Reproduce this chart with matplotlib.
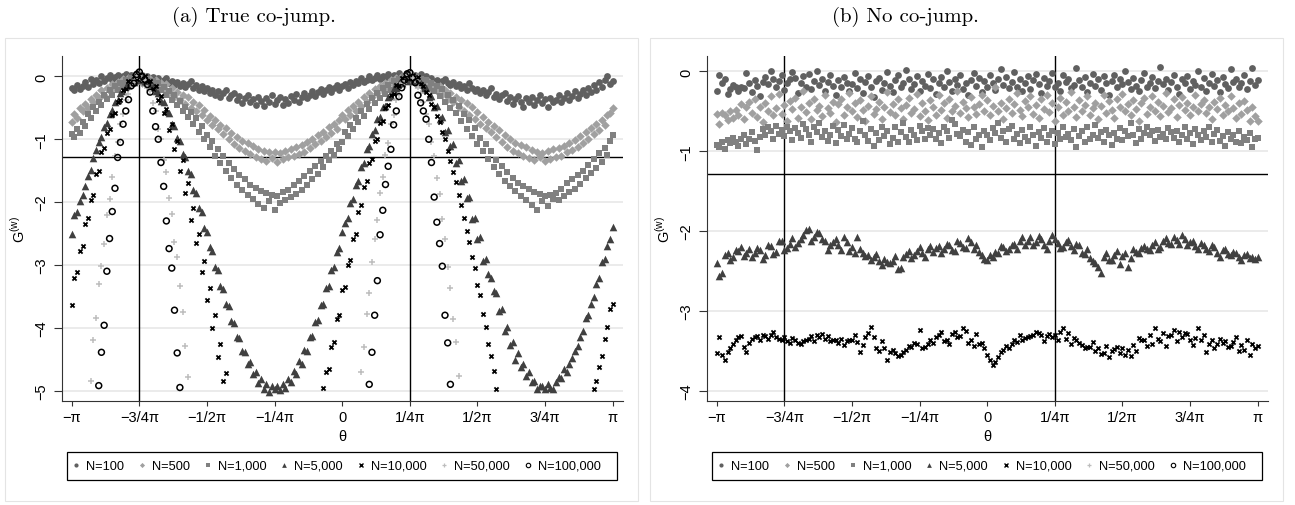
import numpy as np
import matplotlib
matplotlib.use("Agg")
import matplotlib.pyplot as plt
from matplotlib.lines import Line2D
from matplotlib.patches import Rectangle

plt.rcParams["font.family"] = ["Liberation Sans", "DejaVu Sans"]
plt.rcParams["mathtext.fontset"] = "custom"
plt.rcParams["mathtext.rm"] = "Liberation Sans"

nan = np.nan

# theta grid, -pi .. pi
theta = np.linspace(-np.pi, np.pi, 201)

series_labels = ["N=100", "N=500", "N=1,000", "N=5,000", "N=10,000", "N=50,000", "N=100,000"]
xtick_pos = np.pi * np.array([-1, -0.75, -0.5, -0.25, 0, 0.25, 0.5, 0.75, 1])
xtick_labels = ["\u2212\u03c0", "\u22123/4\u03c0", "\u22121/2\u03c0", "\u22121/4\u03c0", "0",
                "1/4\u03c0", "1/2\u03c0", "3/4\u03c0", "\u03c0"]

# ---- (a) true co-jump ----
a_n100 = [-0.18, -0.22, -0.13, -0.20, -0.15, -0.09, -0.17, -0.04, -0.12, -0.06,
          -0.10, 0.01, -0.08, -0.03, 0.02, -0.06, -0.01, 0.03, -0.05, 0.00,
          0.04, -0.03, 0.02, -0.01, 0.05, -0.04, 0.02, -0.02, 0.01, -0.06,
          -0.01, -0.08, -0.03, -0.10, -0.05, -0.02, -0.11, -0.07, -0.13, -0.09,
          -0.15, -0.10, -0.17, -0.12, -0.08, -0.19, -0.14, -0.21, -0.16, -0.24,
          -0.18, -0.26, -0.21, -0.29, -0.24, -0.33, -0.27, -0.22, -0.35, -0.30,
          -0.26, -0.38, -0.31, -0.42, -0.34, -0.29, -0.40, -0.36, -0.45, -0.32,
          -0.39, -0.47, -0.35, -0.41, -0.30, -0.44, -0.38, -0.33, -0.46, -0.36,
          -0.42, -0.31, -0.37, -0.28, -0.40, -0.33, -0.26, -0.35, -0.29, -0.24,
          -0.31, -0.25, -0.20, -0.28, -0.22, -0.17, -0.25, -0.19, -0.14, -0.21,
          -0.16, -0.12, -0.19, -0.09, -0.14, -0.07, -0.11, -0.03, -0.09, -0.05,
          0.00, -0.06, -0.02, 0.03, -0.04, 0.01, -0.03, 0.04, -0.01, 0.02,
          -0.03, 0.05, 0.00, -0.02, 0.06, 0.01, -0.04, 0.03, -0.01, 0.04,
          -0.05, 0.00, -0.07, -0.03, -0.09, -0.05, -0.12, -0.08, -0.04, -0.11,
          -0.14, -0.09, -0.16, -0.12, -0.19, -0.15, -0.21, -0.11, -0.18, -0.23,
          -0.20, -0.27, -0.22, -0.30, -0.25, -0.19, -0.32, -0.28, -0.36, -0.30,
          -0.27, -0.39, -0.33, -0.44, -0.36, -0.31, -0.41, -0.48, -0.35, -0.40,
          -0.33, -0.45, -0.38, -0.30, -0.43, -0.36, -0.49, -0.34, -0.40, -0.37,
          -0.29, -0.41, -0.34, -0.27, -0.38, -0.31, -0.24, -0.35, -0.28, -0.22,
          -0.30, -0.18, -0.25, -0.14, -0.21, -0.09, -0.17, -0.05, 0.00, -0.12,
          -0.08]
a_n500 = [-0.72, -0.60, -0.66, -0.51, -0.55, -0.44, -0.50, -0.36, -0.41, -0.29,
          -0.34, -0.22, -0.30, -0.18, -0.24, -0.12, -0.19, -0.09, -0.15, -0.04,
          -0.11, -0.02, -0.09, 0.00, -0.08, -0.01, -0.10, -0.03, -0.12, -0.04,
          -0.13, -0.06, -0.18, -0.10, -0.22, -0.12, -0.27, -0.19, -0.33, -0.25,
          -0.38, -0.29, -0.44, -0.33, -0.50, -0.41, -0.55, -0.46, -0.62, -0.53,
          -0.69, -0.63, -0.78, -0.69, -0.84, -0.77, -0.92, -0.82, -0.99, -0.90,
          -1.08, -0.97, -1.14, -1.02, -1.19, -1.06, -1.24, -1.10, -1.28, -1.15,
          -1.32, -1.18, -1.34, -1.20, -1.30, -1.21, -1.36, -1.22, -1.31, -1.18,
          -1.28, -1.16, -1.27, -1.12, -1.23, -1.09, -1.20, -1.04, -1.14, -1.00,
          -1.08, -0.93, -1.02, -0.88, -0.96, -0.81, -0.90, -0.75, -0.83, -0.70,
          -0.62, -0.68, -0.54, -0.61, -0.47, -0.55, -0.40, -0.47, -0.33, -0.40,
          -0.26, -0.33, -0.20, -0.27, -0.15, -0.22, -0.10, -0.18, -0.06, -0.14,
          -0.03, -0.11, 0.01, -0.09, -0.02, -0.08, 0.02, -0.10, -0.03, -0.13,
          -0.06, -0.16, -0.09, -0.20, -0.13, -0.24, -0.16, -0.30, -0.21, -0.36,
          -0.26, -0.41, -0.32, -0.48, -0.37, -0.55, -0.43, -0.61, -0.49, -0.68,
          -0.57, -0.76, -0.64, -0.82, -0.72, -0.89, -0.79, -0.97, -0.86, -1.05,
          -0.94, -1.12, -1.00, -1.18, -1.06, -1.22, -1.09, -1.27, -1.13, -1.30,
          -1.17, -1.33, -1.20, -1.29, -1.22, -1.35, -1.19, -1.31, -1.16, -1.28,
          -1.14, -1.26, -1.10, -1.21, -1.06, -1.17, -1.01, -1.12, -0.95, -1.06,
          -0.89, -0.99, -0.82, -0.92, -0.76, -0.85, -0.69, -0.77, -0.62, -0.58,
          -0.50]
a_n1000 = [-0.92, -0.96, -0.83, -0.90, -0.72, -0.79, -0.60, -0.66, -0.49, -0.55,
           -0.40, -0.45, -0.30, -0.36, -0.22, -0.29, -0.15, -0.22, -0.10, -0.16,
           -0.06, -0.12, -0.03, -0.09, 0.00, -0.07, -0.02, -0.10, -0.04, -0.12,
           -0.08, -0.16, -0.11, -0.22, -0.17, -0.29, -0.24, -0.37, -0.30, -0.45,
           -0.39, -0.55, -0.48, -0.65, -0.56, -0.76, -0.66, -0.88, -0.79, -1.00,
           -0.93, -1.12, -1.03, -1.26, -1.15, -1.38, -1.27, -1.50, -1.38, -1.62,
           -1.48, -1.73, -1.57, -1.80, -1.64, -1.88, -1.72, -1.95, -1.78, -2.03,
           -1.83, -2.10, -1.86, -1.98, -1.89, -2.12, -1.91, -2.02, -1.84, -1.97,
           -1.80, -1.92, -1.72, -1.87, -1.66, -1.80, -1.58, -1.73, -1.50, -1.64,
           -1.43, -1.56, -1.35, -1.44, -1.27, -1.33, -1.18, -1.25, -1.08, -1.16,
           -1.05, -0.88, -0.95, -0.78, -0.84, -0.66, -0.73, -0.55, -0.63, -0.44,
           -0.52, -0.35, -0.43, -0.27, -0.34, -0.19, -0.28, -0.14, -0.22, -0.08,
           -0.15, -0.04, -0.11, 0.00, -0.08, -0.02, -0.09, 0.01, -0.08, -0.04,
           -0.13, -0.06, -0.18, -0.11, -0.24, -0.15, -0.31, -0.20, -0.40, -0.29,
           -0.50, -0.38, -0.59, -0.47, -0.71, -0.60, -0.83, -0.70, -0.95, -0.82,
           -1.07, -0.98, -1.19, -1.08, -1.31, -1.19, -1.44, -1.33, -1.55, -1.42,
           -1.66, -1.52, -1.75, -1.61, -1.83, -1.69, -1.90, -1.74, -1.96, -1.79,
           -2.04, -1.84, -2.13, -1.87, -1.99, -1.90, -2.06, -1.88, -1.95, -1.85,
           -1.96, -1.79, -1.90, -1.70, -1.84, -1.64, -1.79, -1.57, -1.71, -1.50,
           -1.62, -1.41, -1.53, -1.31, -1.45, -1.22, -1.36, -1.14, -1.25, -1.03,
           -0.93]
a_n5000 = [-2.50, -2.21, -2.15, -1.98, -1.88, -1.74, -1.58, -1.49, -1.30, -1.17,
           -1.04, -0.97, -0.80, -0.74, -0.60, -0.53, -0.41, -0.37, -0.27, -0.23,
           -0.15, -0.14, -0.07, -0.09, -0.03, -0.06, -0.04, -0.08, -0.07, -0.15,
           -0.15, -0.24, -0.26, -0.39, -0.41, -0.55, -0.58, -0.75, -0.79, -0.98,
           -1.03, -1.23, -1.29, -1.51, -1.56, -1.80, -1.86, -2.10, -2.15, -2.41,
           -2.47, -2.72, -2.78, -3.03, -3.08, -3.33, -3.38, -3.62, -3.66, -3.89,
           -3.92, -4.14, -4.16, -4.37, -4.38, -4.57, -4.55, -4.73, -4.70, -4.88,
           -4.82, -4.97, -4.90, -5.02, -4.93, -4.97, -4.92, -4.99, -4.89, -4.95,
           -4.81, -4.87, -4.69, -4.73, -4.53, -4.57, -4.36, -4.37, -4.15, -4.13,
           -3.91, -3.88, -3.64, -3.62, -3.37, -3.34, -3.08, -3.04, -2.79, -2.73,
           -2.48, -2.33, -2.25, -2.01, -1.95, -1.72, -1.66, -1.44, -1.37, -1.16,
           -1.10, -0.91, -0.86, -0.68, -0.65, -0.49, -0.47, -0.33, -0.31, -0.19,
           -0.19, -0.10, -0.11, -0.04, -0.07, -0.02, -0.08, -0.04, -0.12, -0.10,
           -0.20, -0.19, -0.33, -0.31, -0.48, -0.47, -0.67, -0.65, -0.88, -0.86,
           -1.11, -1.08, -1.38, -1.33, -1.67, -1.64, -1.93, -1.92, -2.27, -2.25,
           -2.58, -2.55, -2.94, -2.90, -3.15, -3.20, -3.42, -3.45, -3.74, -3.70,
           -4.05, -3.98, -4.27, -4.22, -4.52, -4.40, -4.63, -4.58, -4.77, -4.70,
           -4.87, -4.84, -4.98, -4.92, -4.93, -4.98, -4.90, -4.95, -4.97, -4.86,
           -4.79, -4.80, -4.66, -4.71, -4.58, -4.48, -4.37, -4.29, -4.15, -4.05,
           -3.85, -3.80, -3.62, -3.51, -3.30, -3.21, -2.96, -2.90, -2.70, -2.58,
           -2.40]
# values below the plotted range are left out (nan)
a_n10000 = ([-3.64, -3.20, -3.12, -2.78, -2.70, -2.35, -2.25, -1.96, -1.88, -1.55,
             -1.50, -1.20, -1.14, -0.90, -0.84, -0.62, -0.58, -0.40, -0.37, -0.21,
             -0.20, -0.08, -0.09, 0.00, -0.04, 0.03, -0.05, 0.01, -0.08, -0.07,
             -0.20, -0.16, -0.37, -0.31, -0.59, -0.52, -0.85, -0.76, -1.15, -1.02,
             -1.50, -1.33, -1.86, -1.70, -2.28, -2.10, -2.65, -2.50, -3.12, -2.94,
             -3.55, -3.36, -4.01, -3.80, -4.46, -4.25, -4.85, -4.72]
            + [nan] * 35
            + [-4.95, -4.70, -4.66, -4.30, -4.22, -3.86, -3.80,
               -3.40, -3.35, -3.00, -2.92, -2.58, -2.50, -2.16, -2.05, -1.76, -1.67,
               -1.38, -1.32, -1.03, -1.00, -0.74, -0.71, -0.50, -0.46, -0.30, -0.28,
               -0.13, -0.15, -0.02, -0.08, 0.04, -0.03, 0.02, -0.06, -0.01, -0.12,
               -0.15, -0.25, -0.29, -0.44, -0.49, -0.63, -0.72, -0.88, -0.99, -1.18,
               -1.35, -1.52, -1.68, -1.88, -2.05, -2.25, -2.46, -2.64, -2.88, -3.05,
               -3.32, -3.48, -3.78, -3.98, -4.25, -4.45, -4.68, -4.97]
            + [nan] * 35
            + [-4.98, -4.85, -4.62, -4.45, -4.18, -3.99, -3.70, -3.62])
a_n50000 = ([nan] * 7
            + [-4.84, -4.20, -3.85, -3.30, -3.02, -2.66, -2.20, -1.95, -1.60, -1.26,
               -1.05, -0.75, -0.60, -0.38, -0.28, -0.12, -0.09, 0.01, 0.03, -0.04,
               -0.05, -0.19, -0.24, -0.43, -0.55, -0.83, -0.99, -1.33, -1.52, -1.94,
               -2.19, -2.63, -2.88, -3.33, -3.75, -4.29, -4.78]
            + [nan] * 63
            + [-4.70, -4.31, -3.78, -3.44, -2.95, -2.58, -2.28, -1.86, -1.60, -1.25,
               -1.06, -0.76, -0.62, -0.37, -0.30, -0.11, -0.10, 0.02, 0.04, -0.03,
               -0.06, -0.17, -0.27, -0.40, -0.60, -0.76, -1.05, -1.27, -1.62, -1.87,
               -2.27, -2.58, -3.03, -3.37, -3.86, -4.22, -4.77]
            + [nan] * 57)
a_n100000 = ([nan] * 10
             + [-4.92, -4.39, -3.96, -3.10, -2.58, -2.15, -1.78, -1.29, -1.05, -0.76,
                -0.55, -0.37, -0.15, -0.11, 0.03, 0.07, 0.00, -0.05, -0.13, -0.25,
                -0.55, -0.80, -1.00, -1.37, -1.75, -2.30, -2.74, -3.05, -3.72, -4.40,
                -4.95]
             + [nan] * 69
             + [-4.90, -4.39, -3.80, -3.25, -2.52, -2.13, -1.72, -1.43, -1.16, -0.77,
                -0.55, -0.32, -0.18, -0.06, 0.04, 0.06, -0.02, -0.10, -0.30, -0.42,
                -0.55, -0.68, -1.00, -1.37, -1.92, -2.32, -2.66, -3.02, -3.80, -4.24,
                -4.90]
             + [nan] * 60)

# ---- (b) no co-jump ----
b_n100 = [-0.25, -0.05, -0.14, -0.10, -0.28, -0.22, -0.17, -0.20, -0.24, -0.19,
          -0.21, -0.02, -0.15, -0.26, -0.11, -0.18, -0.31, -0.13, -0.07, -0.16,
          0.00, -0.09, -0.20, -0.12, -0.04, -0.23, -0.15, -0.10, -0.01, -0.08,
          -0.27, -0.14, -0.06, -0.19, -0.03, -0.22, -0.12, 0.01, -0.17, -0.09,
          -0.24, -0.13, -0.05, -0.18, -0.29, -0.11, -0.20, -0.07, -0.14, -0.25,
          -0.16, -0.02, -0.21, -0.10, -0.27, -0.13, -0.06, -0.19, -0.32, -0.12,
          -0.08, -0.23, -0.15, -0.01, -0.18, -0.26, -0.11, -0.04, -0.20, -0.14,
          0.02, -0.09, -0.22, -0.16, -0.06, -0.25, -0.12, -0.18, -0.03, -0.21,
          -0.10, -0.28, -0.15, -0.07, -0.19, 0.00, -0.13, -0.24, -0.09, -0.17,
          -0.05, -0.22, -0.14, -0.30, -0.11, -0.02, -0.18, -0.08, -0.26, -0.12,
          -0.20, -0.04, -0.15, -0.23, -0.10, 0.03, -0.17, -0.07, -0.21, -0.13,
          -0.01, -0.19, -0.09, -0.25, -0.14, -0.06, -0.22, -0.11, -0.03, -0.16,
          -0.27, -0.08, -0.18, -0.12, -0.02, -0.20, -0.15, -0.24, -0.05, -0.13,
          -0.09, -0.21, -0.17, 0.04, -0.11, -0.19, -0.07, -0.26, -0.14, -0.03,
          -0.18, -0.10, -0.23, -0.06, -0.15, -0.29, -0.12, -0.04, -0.20, -0.09,
          -0.16, 0.01, -0.13, -0.22, -0.08, -0.18, -0.25, -0.11, -0.02, -0.19,
          -0.14, -0.07, -0.21, -0.12, 0.05, -0.16, -0.09, -0.23, -0.13, -0.04,
          -0.19, -0.28, -0.10, -0.15, -0.06, -0.22, -0.12, -0.17, 0.00, -0.20,
          -0.08, -0.24, -0.14, -0.03, -0.18, -0.11, -0.26, -0.07, -0.16, -0.21,
          0.03, -0.13, -0.09, -0.20, -0.15, -0.05, -0.22, -0.12, 0.04, -0.17,
          -0.11]
b_n500 = [-0.53, -0.66, -0.52, -0.55, -0.61, -0.50, -0.58, -0.48, -0.54, -0.41,
          -0.60, -0.45, -0.38, -0.52, -0.35, -0.57, -0.44, -0.63, -0.40, -0.49,
          -0.31, -0.55, -0.46, -0.28, -0.53, -0.42, -0.62, -0.37, -0.47, -0.33,
          -0.58, -0.44, -0.24, -0.51, -0.39, -0.60, -0.35, -0.48, -0.43, -0.56,
          -0.30, -0.46, -0.52, -0.38, -0.63, -0.41, -0.34, -0.54, -0.45, -0.27,
          -0.50, -0.40, -0.57, -0.36, -0.48, -0.62, -0.43, -0.31, -0.53, -0.47,
          -0.38, -0.59, -0.44, -0.26, -0.51, -0.41, -0.55, -0.35, -0.46, -0.60,
          -0.42, -0.33, -0.52, -0.47, -0.28, -0.56, -0.39, -0.49, -0.61, -0.36,
          -0.45, -0.54, -0.30, -0.48, -0.40, -0.58, -0.34, -0.50, -0.43, -0.25,
          -0.52, -0.38, -0.46, -0.57, -0.32, -0.44, -0.53, -0.41, -0.29, -0.49,
          -0.36, -0.55, -0.43, -0.20, -0.50, -0.39, -0.60, -0.46, -0.34, -0.52,
          -0.41, -0.27, -0.48, -0.56, -0.37, -0.45, -0.31, -0.53, -0.42, -0.58,
          -0.35, -0.47, -0.29, -0.51, -0.40, -0.62, -0.44, -0.33, -0.55, -0.38,
          -0.49, -0.26, -0.45, -0.57, -0.36, -0.50, -0.42, -0.31, -0.54, -0.46,
          -0.39, -0.60, -0.43, -0.30, -0.52, -0.37, -0.48, -0.58, -0.34, -0.45,
          -0.28, -0.50, -0.41, -0.55, -0.36, -0.47, -0.62, -0.40, -0.33, -0.53,
          -0.44, -0.31, -0.49, -0.38, -0.56, -0.43, -0.27, -0.51, -0.46, -0.35,
          -0.57, -0.42, -0.32, -0.48, -0.39, -0.54, -0.45, -0.29, -0.50, -0.41,
          -0.36, -0.52, -0.44, -0.60, -0.38, -0.47, -0.33, -0.55, -0.42, -0.49,
          -0.31, -0.46, -0.58, -0.40, -0.53, -0.37, -0.48, -0.62, -0.44, -0.56,
          -0.62]
b_n1000 = [-0.92, -0.95, -0.89, -0.97, -0.86, -0.90, -0.83, -0.88, -0.93, -0.85,
           -0.80, -0.91, -0.84, -0.76, -0.87, -0.98, -0.82, -0.72, -0.79, -0.70,
           -0.75, -0.85, -0.68, -0.78, -0.73, -0.81, -0.69, -0.74, -0.86, -0.71,
           -0.77, -0.83, -0.66, -0.72, -0.80, -0.88, -0.70, -0.76, -0.64, -0.82,
           -0.74, -0.87, -0.79, -0.68, -0.90, -0.73, -0.81, -0.67, -0.85, -0.78,
           -0.71, -0.84, -0.89, -0.75, -0.62, -0.80, -0.87, -0.72, -0.93, -0.77,
           -0.86, -0.69, -0.81, -0.74, -0.91, -0.83, -0.70, -0.88, -0.76, -0.65,
           -0.82, -0.89, -0.73, -0.79, -0.86, -0.68, -0.75, -0.84, -0.71, -0.80,
           -0.72, -0.85, -0.77, -0.90, -0.70, -0.74, -0.83, -0.61, -0.66, -0.78,
           -0.81, -0.73, -0.88, -0.76, -0.92, -0.69, -0.84, -0.79, -0.95, -0.74,
           -0.80, -0.86, -0.71, -0.77, -0.64, -0.83, -0.75, -0.89, -0.72, -0.68,
           -0.85, -0.78, -0.90, -0.73, -0.82, -0.87, -0.70, -0.79, -0.93, -0.76,
           -0.83, -0.71, -0.88, -0.80, -0.74, -0.91, -0.77, -0.85, -0.69, -0.82,
           -0.78, -0.86, -0.72, -0.95, -0.81, -0.75, -0.89, -0.70, -0.84, -0.79,
           -0.67, -0.83, -0.76, -0.88, -0.73, -0.80, -0.92, -0.77, -0.85, -0.71,
           -0.86, -0.74, -0.81, -0.65, -0.79, -0.90, -0.72, -0.84, -0.77, -0.69,
           -0.80, -0.75, -0.87, -0.73, -0.82, -0.78, -0.85, -0.71, -0.76, -0.83,
           -0.74, -0.88, -0.79, -0.69, -0.84, -0.77, -0.91, -0.72, -0.80, -0.86,
           -0.75, -0.82, -0.70, -0.89, -0.78, -0.73, -0.87, -0.81, -0.93, -0.76,
           -0.84, -0.79, -0.88, -0.74, -0.90, -0.82, -0.86, -0.77, -0.95, -0.85,
           -0.83]
b_n5000 = [-2.40, -2.56, -2.52, -2.30, -2.27, -2.36, -2.33, -2.24, -2.25, -2.20,
           -2.31, -2.27, -2.22, -2.33, -2.28, -2.21, -2.24, -2.35, -2.30, -2.18,
           -2.19, -2.29, -2.26, -2.12, -2.13, -2.24, -2.21, -2.16, -2.09, -2.20,
           -2.15, -2.10, -2.05, -1.99, -1.97, -2.12, -2.08, -2.01, -2.03, -2.10,
           -2.12, -2.24, -2.18, -2.14, -2.10, -2.17, -2.24, -2.08, -2.14, -2.25,
           -2.20, -2.28, -2.07, -2.22, -2.27, -2.31, -2.30, -2.36, -2.33, -2.29,
           -2.38, -2.42, -2.35, -2.39, -2.40, -2.37, -2.31, -2.48, -2.46, -2.33,
           -2.29, -2.25, -2.34, -2.30, -2.25, -2.20, -2.28, -2.33, -2.22, -2.19,
           -2.26, -2.21, -2.19, -2.28, -2.23, -2.16, -2.17, -2.24, -2.25, -2.13,
           -2.15, -2.20, -2.21, -2.09, -2.14, -2.22, -2.18, -2.26, -2.30, -2.35,
           -2.36, -2.30, -2.32, -2.26, -2.27, -2.19, -2.20, -2.25, -2.23, -2.17,
           -2.16, -2.22, -2.12, -2.08, -2.18, -2.13, -2.08, -2.17, -2.14, -2.06,
           -2.10, -2.18, -2.22, -2.12, -2.05, -2.10, -2.15, -2.21, -2.20, -2.14,
           -2.11, -2.19, -2.24, -2.16, -2.18, -2.27, -2.29, -2.22, -2.34, -2.38,
           -2.40, -2.45, -2.52, -2.33, -2.28, -2.36, -2.36, -2.30, -2.25, -2.41,
           -2.31, -2.27, -2.45, -2.34, -2.22, -2.26, -2.27, -2.21, -2.19, -2.23,
           -2.24, -2.17, -2.14, -2.22, -2.20, -2.12, -2.09, -2.15, -2.16, -2.08,
           -2.11, -2.16, -2.05, -2.10, -2.18, -2.14, -2.13, -2.19, -2.22, -2.15,
           -2.17, -2.23, -2.25, -2.18, -2.20, -2.27, -2.32, -2.24, -2.23, -2.29,
           -2.30, -2.26, -2.27, -2.33, -2.36, -2.30, -2.29, -2.34, -2.33, -2.35,
           -2.33]
b_n10000 = [-3.53, -3.33, -3.55, -3.62, -3.52, -3.47, -3.41, -3.36, -3.33, -3.32,
            -3.45, -3.51, -3.40, -3.35, -3.33, -3.31, -3.36, -3.30, -3.32, -3.35,
            -3.30, -3.27, -3.33, -3.35, -3.36, -3.33, -3.38, -3.40, -3.34, -3.37,
            -3.40, -3.41, -3.38, -3.36, -3.35, -3.32, -3.38, -3.30, -3.33, -3.29,
            -3.35, -3.31, -3.38, -3.36, -3.37, -3.40, -3.35, -3.43, -3.38, -3.36,
            -3.36, -3.30, -3.39, -3.52, -3.43, -3.33, -3.28, -3.20, -3.33, -3.47,
            -3.50, -3.38, -3.46, -3.61, -3.52, -3.49, -3.53, -3.56, -3.55, -3.52,
            -3.49, -3.44, -3.45, -3.40, -3.41, -3.24, -3.46, -3.45, -3.42, -3.36,
            -3.40, -3.33, -3.30, -3.27, -3.38, -3.36, -3.42, -3.29, -3.26, -3.33,
            -3.32, -3.22, -3.25, -3.40, -3.36, -3.44, -3.29, -3.41, -3.40, -3.47,
            -3.55, -3.62, -3.68, -3.64, -3.58, -3.52, -3.49, -3.44, -3.46, -3.41,
            -3.37, -3.39, -3.30, -3.36, -3.34, -3.33, -3.32, -3.30, -3.26, -3.28,
            -3.30, -3.38, -3.31, -3.29, -3.33, -3.30, -3.37, -3.27, -3.22, -3.35,
            -3.28, -3.41, -3.34, -3.37, -3.40, -3.43, -3.47, -3.45, -3.45, -3.39,
            -3.50, -3.47, -3.54, -3.53, -3.44, -3.58, -3.50, -3.48, -3.45, -3.53,
            -3.46, -3.55, -3.49, -3.57, -3.43, -3.50, -3.34, -3.37, -3.36, -3.44,
            -3.30, -3.42, -3.21, -3.35, -3.38, -3.28, -3.44, -3.32, -3.30, -3.24,
            -3.38, -3.26, -3.33, -3.28, -3.29, -3.36, -3.43, -3.34, -3.22, -3.37,
            -3.30, -3.52, -3.41, -3.37, -3.46, -3.42, -3.35, -3.40, -3.38, -3.45,
            -3.44, -3.39, -3.33, -3.50, -3.43, -3.49, -3.37, -3.55, -3.42, -3.47,
            -3.44]

styles = [
    dict(marker="o", s=24, color="#606060", linewidths=0),
    dict(marker="D", s=19, color="#a0a0a0", linewidths=0),
    dict(marker="s", s=21, color="#808080", linewidths=0),
    dict(marker="^", s=30, color="#404040", linewidths=0),
    dict(marker="x", s=9, color="#000000", linewidths=1.3),
    dict(marker="+", s=20, color="#bdbdbd", linewidths=1.1),
    dict(marker="o", s=18, facecolors="none", edgecolors="#000000", linewidths=1.1),
]
leg_handles = [
    Line2D([], [], ls="none", marker="o", ms=3.0, mfc="#606060", mec="#606060", mew=0),
    Line2D([], [], ls="none", marker="D", ms=2.6, mfc="#a0a0a0", mec="#a0a0a0", mew=0),
    Line2D([], [], ls="none", marker="s", ms=3.0, mfc="#808080", mec="#808080", mew=0),
    Line2D([], [], ls="none", marker="^", ms=3.4, mfc="#404040", mec="#404040", mew=0),
    Line2D([], [], ls="none", marker="x", ms=2.4, mec="#000000", mew=1.0),
    Line2D([], [], ls="none", marker="+", ms=3.2, mec="#bdbdbd", mew=0.9),
    Line2D([], [], ls="none", marker="o", ms=3.2, mfc="none", mec="#000000", mew=0.8),
]

W, H = 1295, 506
fig = plt.figure(figsize=(W / 100, H / 100), dpi=100)


def fx(px):
    return px / W


def fy(py):
    return 1 - py / H


def draw_panel(x0, title, title_x, data, ylim, yticks):
    # light frame around the whole panel
    fig.add_artist(Rectangle((fx(x0 + 5.3), fy(502)), 633 / W, 463 / H,
                             transform=fig.transFigure, facecolor="white",
                             edgecolor="#e4e4e4", lw=0.8, zorder=-1))
    fig.text(fx(title_x), fy(17), title, ha="center", va="center",
             fontsize=15, family="cmr10")

    ax = fig.add_axes([fx(x0 + 61.7), fy(401.7), 561 / W, 344.4 / H])
    ax.set_facecolor("none")
    for vals, st in zip(data, styles):
        ax.scatter(theta, vals, zorder=2, **st)

    ax.axhline(-1.28, color="black", lw=1.0, zorder=1.8)
    for v in (-0.75 * np.pi, 0.25 * np.pi):
        ax.axvline(v, color="black", lw=1.0, zorder=1.8)

    ax.set_xlim(-np.pi - 0.116, np.pi + 0.116)
    ax.set_ylim(*ylim)
    ax.set_xticks(xtick_pos, xtick_labels)
    ax.set_yticks(yticks, ["0" if t == 0 else "\u2212%d" % -t for t in yticks])
    ax.grid(axis="y", color="#e6e6e6", lw=1.1)
    ax.set_axisbelow(True)
    for side in ("top", "right"):
        ax.spines[side].set_visible(False)
    for side in ("left", "bottom"):
        ax.spines[side].set_color("#333333")
        ax.spines[side].set_linewidth(0.8)
    ax.tick_params(axis="x", length=3.6, width=0.8, pad=3, labelsize=10.5, color="#333333")
    ax.tick_params(axis="y", length=5.5, width=0.8, pad=4, labelsize=10.5, color="#333333")
    for lab in ax.get_yticklabels():
        lab.set_rotation(90)
        lab.set_va("center")

    ax.set_xlabel("\u03b8", fontsize=10.5)
    ax.xaxis.set_label_coords(0.5, -0.082)
    ax.set_ylabel(r"G$^{\mathrm{(w)}}$", fontsize=10.5)
    ax.yaxis.set_label_coords(-0.060, 0.5)

    ax.legend(handles=leg_handles, labels=series_labels, loc="center left",
              bbox_to_anchor=(fx(x0 + 72), fy(467)), bbox_transform=fig.transFigure,
              ncol=7, frameon=False, fontsize=9.2, handlelength=0.6,
              handletextpad=0.5, columnspacing=1.08, borderpad=0, borderaxespad=0)
    fig.add_artist(Rectangle((fx(x0 + 66.7), fy(480.7)), 550.6 / W, 27.4 / H,
                             transform=fig.transFigure, fill=False,
                             edgecolor="black", lw=0.9))
    return ax


draw_panel(0, "(a) True co-jump.", 254,
           [a_n100, a_n500, a_n1000, a_n5000, a_n10000, a_n50000, a_n100000],
           (-5.16, 0.32), [0, -1, -2, -3, -4, -5])
draw_panel(645, "(b) No co-jump.", 905,
           [b_n100, b_n500, b_n1000, b_n5000, b_n10000],
           (-4.125, 0.19), [0, -1, -2, -3, -4])

fig.savefig("out.png", dpi=100)
